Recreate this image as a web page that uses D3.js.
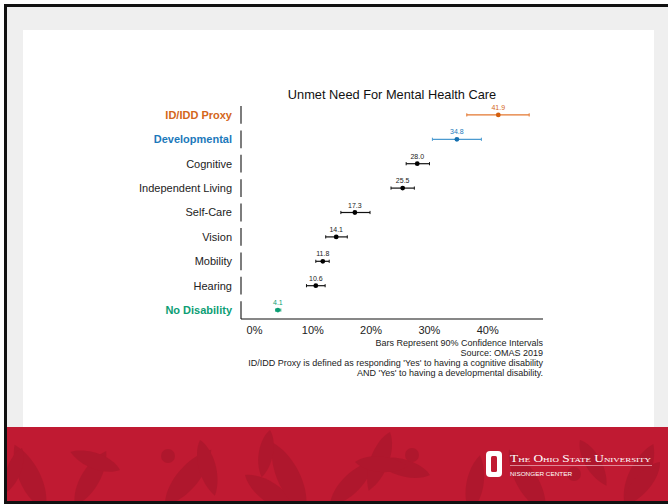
<!DOCTYPE html>
<html>
<head>
<meta charset="utf-8">
<script src="https://cdn.jsdelivr.net/npm/d3@7"></script>
<style>
  html, body { margin: 0; padding: 0; background: #ffffff; }
  svg { display: block; }
</style>
</head>
<body>
<svg id="slide" width="668" height="504"></svg>
<script>
// Unmet need for mental health care by disability type (OMAS 2019)
const categories = ["ID/IDD Proxy", "Developmental", "Cognitive", "Independent Living",
  "Self-Care", "Vision", "Mobility", "Hearing", "No Disability"];
const estimates = [41.9, 34.8, 28.0, 25.5, 17.3, 14.1, 11.8, 10.6, 4.1];
const ciLower   = [36.5, 30.6, 26.1, 23.5, 14.9, 12.3, 10.6,  9.0, 3.7];
const ciUpper   = [47.2, 39.0, 30.1, 27.5, 19.9, 16.0, 12.9, 12.2, 4.6];
const highlight = ["orange", "blue", null, null, null, null, null, null, "green"];
const xTicks = [0, 10, 20, 30, 40];
const titleText = "Unmet Need For Mental Health Care";
const footnotes = [
  "Bars Represent 90% Confidence Intervals",
  "Source: OMAS 2019",
  "ID/IDD Proxy is defined as responding 'Yes' to having a cognitive disability",
  "AND 'Yes' to having a developmental disability."
];

const palette = {
  orange: { text: "#d4661a", bar: "#e3772f", dot: "#d45f0e" },
  blue:   { text: "#1c79bb", bar: "#4b9ad0", dot: "#1470b0" },
  green:  { text: "#0d9e74", bar: "#2eae86", dot: "#0d9e74" },
  none:   { text: "#1a1a1a", bar: "#111111", dot: "#000000" }
};

const rows = categories.map((c, i) => ({
  cat: c, est: estimates[i], lo: ciLower[i], hi: ciUpper[i],
  col: palette[highlight[i] || "none"], strong: !!highlight[i]
}));

const svg = d3.select("#slide");
const font = "'Liberation Sans', Arial, sans-serif";

// ---- slide frame ----
svg.append("rect").attr("x", 0).attr("y", 0).attr("width", 668).attr("height", 504).attr("fill", "#ffffff");
svg.append("rect").attr("x", 5).attr("y", 5).attr("width", 663).attr("height", 499).attr("fill", "#efefef");
svg.append("rect").attr("x", 23).attr("y", 30).attr("width", 631).attr("height", 397).attr("fill", "#ffffff");

// red footer band with buckeye leaf pattern
const band = svg.append("g");
band.append("rect").attr("x", 5).attr("y", 427).attr("width", 663).attr("height", 74).attr("fill", "#c01a32");
const clip = svg.append("defs").append("clipPath").attr("id", "bandClip");
clip.append("rect").attr("x", 5).attr("y", 427).attr("width", 663).attr("height", 74);
const leaves = band.append("g").attr("clip-path", "url(#bandClip)").attr("fill", "#a5162a").attr("opacity", 0.6);
const leafPath = "M0,0 C9,-10 10,-34 0,-48 C-10,-34 -9,-10 0,0 Z";
const leafSpots = [
  [45, 510, -25, 1.5], [75, 505, 30, 1.3], [120, 470, -70, 1.1], [165, 505, 40, 1.5],
  [200, 440, 165, 1.2], [245, 475, 125, 1.4], [305, 512, -25, 1.6], [330, 505, 45, 1.3],
  [390, 432, 200, 1.3], [430, 475, -75, 1.2], [355, 462, 95, 1.1], [545, 512, -30, 1.5],
  [580, 440, 150, 1.1], [625, 505, 25, 1.4], [660, 462, -140, 1.2], [22, 448, 200, 1.0],
  [470, 512, 10, 1.2], [270, 430, 190, 1.0]
];
leaves.selectAll("path").data(leafSpots).join("path")
  .attr("d", leafPath)
  .attr("transform", d => `translate(${d[0]},${d[1]}) rotate(${d[2]}) scale(${d[3]})`);
leaves.selectAll("circle").data([[168, 456], [412, 455], [574, 474]]).join("circle")
  .attr("cx", d => d[0]).attr("cy", d => d[1]).attr("r", 7);

// slide borders
svg.append("rect").attr("x", 4).attr("y", 4).attr("width", 664).attr("height", 3).attr("fill", "#111");
svg.append("rect").attr("x", 4).attr("y", 4).attr("width", 3).attr("height", 500).attr("fill", "#111");
svg.append("rect").attr("x", 4).attr("y", 501).attr("width", 664).attr("height", 3).attr("fill", "#111");

// university logo
const logo = svg.append("g");
logo.append("rect").attr("x", 486).attr("y", 451).attr("width", 16).attr("height", 26).attr("rx", 4)
  .attr("fill", "#ffffff");
logo.append("rect").attr("x", 491).attr("y", 456).attr("width", 6).attr("height", 16).attr("rx", 1.5)
  .attr("fill", "#c01a32");
logo.append("text").attr("x", 510).attr("y", 461.5)
  .attr("font-family", "'Liberation Serif', 'DejaVu Serif', serif").attr("font-size", 10.5)
  .attr("font-variant", "small-caps").attr("fill", "#ffffff").attr("textLength", 141)
  .attr("lengthAdjust", "spacingAndGlyphs").text("The Ohio State University");
logo.append("line").attr("x1", 510).attr("x2", 652).attr("y1", 465.5).attr("y2", 465.5)
  .attr("stroke", "#e9a5b0").attr("stroke-width", 0.8);
logo.append("text").attr("x", 510).attr("y", 476)
  .attr("font-family", font).attr("font-size", 6.2).attr("fill", "#ffffff")
  .attr("textLength", 62).attr("lengthAdjust", "spacingAndGlyphs").text("NISONGER CENTER");

// ---- chart ----
const x = d3.scaleLinear().domain([-2.23, 49.57]).range([241, 543]);
const y = d3.scaleBand().domain(categories).range([106, 319]).paddingInner(0.27).paddingOuter(0);
const cy = c => y(c) + y.bandwidth() / 2;

const chart = svg.append("g");

chart.append("text").attr("x", 392).attr("y", 99).attr("text-anchor", "middle")
  .attr("font-family", font).attr("font-size", 12.8).attr("fill", "#111").text(titleText);

// per-row left axis segments
chart.selectAll(".rowaxis").data(rows).join("line")
  .attr("x1", 241).attr("x2", 241)
  .attr("y1", d => y(d.cat)).attr("y2", d => y(d.cat) + y.bandwidth())
  .attr("stroke", "#111").attr("stroke-width", 1.1);

// row labels
chart.selectAll(".rowlabel").data(rows).join("text")
  .attr("x", 232).attr("y", d => cy(d.cat)).attr("dy", "0.35em").attr("text-anchor", "end")
  .attr("font-family", font).attr("font-size", 11)
  .attr("font-weight", d => d.strong ? "bold" : "normal")
  .attr("fill", d => d.strong ? d.col.text : "#222").text(d => d.cat);

// bottom axis
const xAxis = d3.axisBottom(x).tickValues(xTicks).tickFormat(d => d + "%").tickSize(0).tickPadding(7);
const ax = chart.append("g").attr("transform", "translate(0,319)").call(xAxis);
ax.select(".domain").attr("stroke", "#111").attr("stroke-width", 1.1).attr("d", `M241,0H543`);
ax.selectAll("text").attr("font-family", font).attr("font-size", 11).attr("fill", "#222");

// confidence intervals
const cap = 1.6;
const ci = chart.selectAll(".ci").data(rows).join("g");
ci.append("line").attr("x1", d => x(d.lo)).attr("x2", d => x(d.hi))
  .attr("y1", d => cy(d.cat)).attr("y2", d => cy(d.cat))
  .attr("stroke", d => d.col.bar).attr("stroke-width", 1.2);
ci.append("line").attr("x1", d => x(d.lo)).attr("x2", d => x(d.lo))
  .attr("y1", d => cy(d.cat) - cap).attr("y2", d => cy(d.cat) + cap)
  .attr("stroke", d => d.col.bar).attr("stroke-width", 1);
ci.append("line").attr("x1", d => x(d.hi)).attr("x2", d => x(d.hi))
  .attr("y1", d => cy(d.cat) - cap).attr("y2", d => cy(d.cat) + cap)
  .attr("stroke", d => d.col.bar).attr("stroke-width", 1);
ci.append("circle").attr("cx", d => x(d.est)).attr("cy", d => cy(d.cat)).attr("r", 2.4)
  .attr("fill", d => d.col.dot);
ci.append("text").attr("x", d => x(d.est)).attr("y", d => cy(d.cat) - 5)
  .attr("text-anchor", "middle").attr("font-family", font).attr("font-size", 7)
  .attr("fill", d => d.strong ? d.col.text : "#222").text(d => d.est.toFixed(1));

// notes
chart.selectAll(".note").data(footnotes).join("text")
  .attr("x", 543).attr("y", (d, i) => 346 + i * 10).attr("text-anchor", "end")
  .attr("font-family", font).attr("font-size", 9).attr("fill", "#222").text(d => d);
</script>
</body>
</html>
